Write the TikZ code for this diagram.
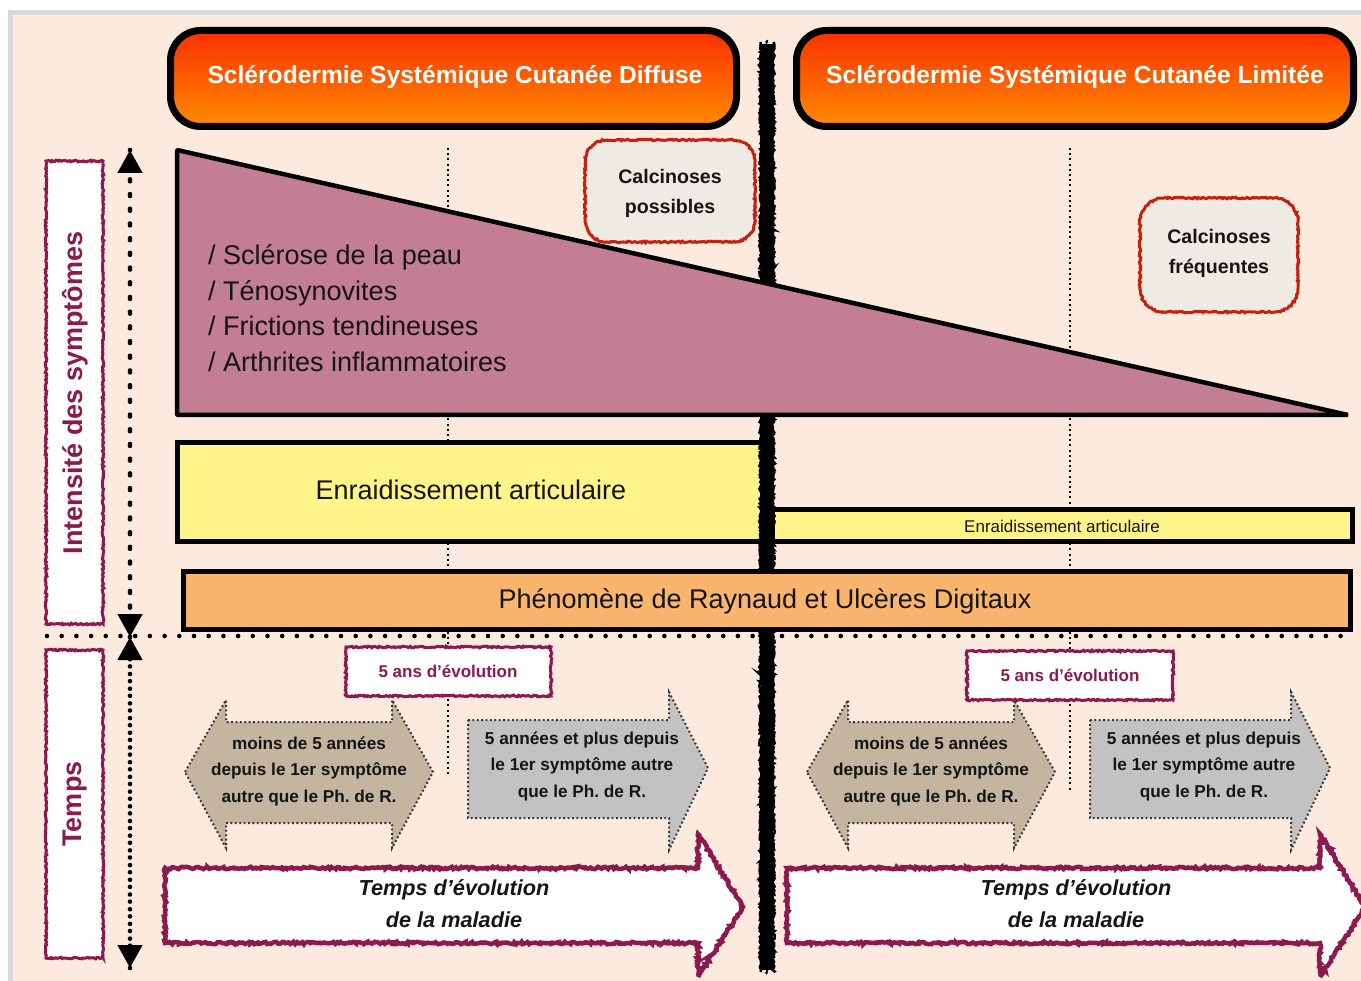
\documentclass[tikz,border=0pt]{standalone}
\usepackage{fontspec}
\setmainfont{Liberation Sans}
\usetikzlibrary{decorations.pathmorphing,arrows.meta}
\frenchspacing

\definecolor{paper}{HTML}{FCEADE}
\definecolor{frame}{HTML}{D9D9D9}
\definecolor{hdrtop}{HTML}{FA3000}
\definecolor{hdrbot}{HTML}{FF8C00}
\definecolor{mauve}{HTML}{C47E94}
\definecolor{lemon}{HTML}{FFF48A}
\definecolor{apricot}{HTML}{F9B46E}
\definecolor{plum}{HTML}{8C1A4E}
\definecolor{brick}{HTML}{C8200F}
\definecolor{shell}{HTML}{EEEAE4}
\definecolor{taupe}{HTML}{C4B5A1}
\definecolor{silver}{HTML}{C2C2C2}
\definecolor{ink}{HTML}{151515}

\tikzset{
  rough/.style={decorate, decoration={random steps, segment length=1.6pt, amplitude=0.8pt}},
  plumline/.style={draw=plum, line width=3pt, rough},
  heavyplum/.style={draw=plum, line width=4.5pt, decorate,
    decoration={random steps, segment length=1.8pt, amplitude=1.2pt}},
  redline/.style={draw=brick, line width=3pt, rough},
  finedots/.style={line width=2pt, dash pattern=on 2pt off 3.2pt},
  bigdots/.style={line width=4.6pt, line cap=round, dash pattern=on 0pt off 14.7pt},
  dotedge/.style={draw=black!80, line width=2pt, dash pattern=on 1.8pt off 2.6pt},
  bar/.style={draw=black, line width=5pt},
  roughedge/.style={line width=2.5pt, decorate,
    decoration={random steps, segment length=1.5pt, amplitude=1.2pt}},
  hdrtext/.style={text=white, inner sep=0pt, font=\fontsize{24.6}{29}\selectfont\bfseries},
  plaintext/.style={text=ink, inner sep=0pt, font=\fontsize{27}{31}\selectfont},
  calctext/.style={text=ink, inner sep=0pt, align=center, font=\fontsize{19.6}{30}\selectfont\bfseries},
  arrowtext/.style={text=ink, inner sep=0pt, align=center, font=\fontsize{17.2}{26.5}\selectfont\bfseries},
  yeartext/.style={text=plum, inner sep=0pt, font=\fontsize{17}{20}\selectfont\bfseries},
  sidetext/.style={text=plum, inner sep=0pt, rotate=90, font=\fontsize{27}{30}\selectfont\bfseries},
  timetext/.style={text=ink, inner sep=0pt, align=center, font=\fontsize{21.7}{32}\selectfont\bfseries\itshape},
  axistip/.style={-{Triangle[width=24pt,length=23pt]}},
}

\begin{document}
\begin{tikzpicture}[x=1pt,y=-1pt]
\useasboundingbox (0,0) rectangle (1361,981);
\clip (0,0) rectangle (1361,981);

% sheet
\fill[white] (0,0) rectangle (1361,981);
\fill[frame] (8,10) rectangle (1361,981);
\fill[paper] (13,15) rectangle (1361,981);

% five-year guide lines
\coordinate (gL1) at (448,148); \coordinate (gL2) at (448,777);
\coordinate (gR1) at (1070,148); \coordinate (gR2) at (1070,790);
\draw[finedots] (gL1) -- (gL2);
\draw[finedots] (gR1) -- (gR2);

% headers
\shade[top color=hdrtop, bottom color=hdrbot, rounded corners=30pt] (170.5,30.5) rectangle (736.5,126.5);
\draw[line width=7pt, rounded corners=30pt] (170.5,30.5) rectangle (736.5,126.5);
\node[hdrtext] (hdrDiff) at (455,77) {Sclérodermie Systémique Cutanée Diffuse};
\shade[top color=hdrtop, bottom color=hdrbot, rounded corners=30pt] (796.5,30.5) rectangle (1353.5,126.5);
\draw[line width=7pt, rounded corners=30pt] (796.5,30.5) rectangle (1353.5,126.5);
\node[hdrtext] (hdrLim) at (1075,77) {Sclérodermie Systémique Cutanée Limitée};

% joint stiffness bars
\filldraw[fill=lemon, bar] (177.5,442.5) rectangle (763,541.5);
\node[plaintext] (stiffBig) at (471,490) {Enraidissement articulaire};
\filldraw[fill=lemon, bar] (772,509.5) rectangle (1352.5,541.5);
\node[plaintext, font=\fontsize{17}{20}\selectfont] (stiffSmall) at (1062,526) {Enraidissement articulaire};

% central divider
\draw[line width=12pt] (767,44) -- (767,970);
\draw[roughedge] (760.5,42) -- (760.5,972);
\draw[roughedge] (773.5,42) -- (773.5,972);
\draw[roughedge, line width=1.5pt] (767,40) -- (767,974);

% decreasing symptom wedge
\filldraw[fill=mauve, draw=black, line width=4.5pt, line join=bevel] (177,150) -- (1348,415) -- (177,415) -- cycle;
\node[plaintext, anchor=west, align=left, font=\fontsize{27}{35.5}\selectfont] (symp) at (208,308)
  {/ Sclérose de la peau\\/ Ténosynovites\\/ Frictions tendineuses\\/ Arthrites inflammatoires};

% Raynaud bar
\filldraw[fill=apricot, bar] (183.5,571.5) rectangle (1350.5,629.5);
\node[plaintext] (raynaud) at (765,601) {Phénomène de Raynaud et Ulcères Digitaux};

% calcinosis notes
\fill[shell, rounded corners=22pt] (585,140) rectangle (755,242);
\draw[redline] {[rounded corners=22pt] (585,140) rectangle (755,242)};
\node[calctext] (calcPoss) at (670,193) {Calcinoses\\possibles};
\fill[shell, rounded corners=24pt] (1140,198) rectangle (1298,312);
\draw[redline] {[rounded corners=24pt] (1140,198) rectangle (1298,312)};
\node[calctext] (calcFreq) at (1219,253) {Calcinoses\\fréquentes};

% axes
\coordinate (axTop) at (130,150);
\coordinate (axMid) at (130,637);
\coordinate (axBot) at (130,968);
\coordinate (rulerL) at (47,636);
\coordinate (rulerR) at (1352,636);
\draw[bigdots] (rulerL) -- (rulerR);
\draw[bigdots, axistip] (axMid) -- (axTop);
\draw[bigdots, axistip] (axTop) -- (axMid);
\draw[bigdots, axistip] (axBot) -- (axMid);
\draw[bigdots, axistip] (axMid) -- (axBot);

% side labels
\filldraw[fill=white, plumline] (46,161) rectangle (103,624);
\node[sidetext] (intens) at (75,393) {Intensité des symptômes};
\filldraw[fill=white, plumline] (46,650) rectangle (103,958);
\node[sidetext] (temps) at (75,804) {Temps};

% five-year tags
\filldraw[fill=white, plumline] (346,647) rectangle (551,696);
\node[yeartext] (fiveL) at (448,671) {5 ans d’évolution};
\filldraw[fill=white, plumline] (967,651) rectangle (1173,700);
\node[yeartext] (fiveR) at (1070,675) {5 ans d’évolution};

% before / after five years (both subtypes)
\foreach \dx/\nm in {0/L, 622/R} {
  \begin{scope}[xshift=\dx]
    \filldraw[fill=taupe, dotedge] (185,772) -- (226,700) -- (226,722) -- (392,722) -- (392,700)
      -- (433,772) -- (392,848) -- (392,823) -- (226,823) -- (226,848) -- cycle;
    \node[arrowtext] (before\nm) at (309,771) {moins de 5 années\\depuis le 1er symptôme\\autre que le Ph. de R.};
    \filldraw[fill=silver, dotedge] (468,720) -- (669,720) -- (669,692) -- (708,768) -- (669,850)
      -- (669,818) -- (468,818) -- cycle;
    \node[arrowtext] (after\nm) at (582,766) {5 années et plus depuis\\le 1er symptôme autre\\que le Ph. de R.};
    \filldraw[fill=white, heavyplum] (165,868) -- (698,868) -- (698,834) -- (743,907) -- (698,977)
      -- (698,943) -- (165,943) -- cycle;
    \node[timetext] (course\nm) at (454,904) {Temps d’évolution\\de la maladie};
  \end{scope}
}
\end{tikzpicture}
\end{document}
